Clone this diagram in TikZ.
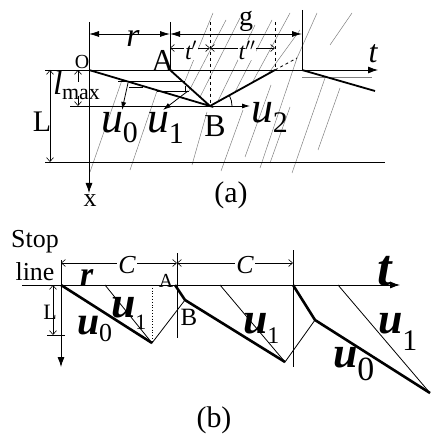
\documentclass[tikz,border=0pt]{standalone}
\usepackage{fontspec}
\setmainfont{Liberation Serif}
\usetikzlibrary{arrows.meta}
\newcommand\fs[1]{\fontsize{#1}{#1}\selectfont}
\newcommand\myU[4]{{\fs{#1}\itshape u}\raisebox{-#4bp}{\fs{#2}#3}}
\newcommand\myUb[4]{{\fs{#1}\bfseries\itshape u}\raisebox{-#4bp}{\fs{#2}#3}}
\begin{document}
\begin{tikzpicture}[x=1bp,y=-1bp,
  lab/.style={inner sep=0pt,outer sep=0pt},
  gl/.style={gray,line width=0.5bp},
  ln/.style={line width=0.8bp},
  thk/.style={line width=1.8bp},
  thkb/.style={line width=2.6bp},
  dimF/.style={line width=0.8bp,{Latex[length=10bp,width=6bp]}-{Latex[length=10bp,width=6bp]}},
  dimO/.style={line width=0.6bp,{Straight Barb[length=4bp,width=7bp]}-{Straight Barb[length=4bp,width=7bp]}},
  arrO/.style={line width=0.6bp,-{Straight Barb[length=4bp,width=7bp]}},
  axarr/.style={line width=0.8bp,-{Latex[length=10bp,width=7bp]}},
  warr/.style={line width=0.8bp,-{Latex[length=8bp,width=5bp]}}]
\useasboundingbox (0,0) rectangle (430,448);

% ================= (a) =================
\coordinate (O) at (89,70);
\coordinate (A) at (170,70);
\coordinate (B) at (210,106);
\coordinate (C) at (275,70);
\coordinate (G) at (302,70);
\coordinate (R) at (375,91);
\coordinate (Cx) at (297,58);

\draw[gl] (90,172) -- (122,80);
\draw[gl] (130,170) -- (157,91);
\draw[gl] (192,165) -- (207,112);
\draw[gl] (221,171) -- (243,110);
\draw[gl] (245,157) -- (271,85);
\draw[gl] (260,168) -- (297,58);
\draw[gl] (270,163) -- (290,107);
\draw[gl] (292,173) -- (325,78);
\draw[gl] (318,150) -- (340,88);
\draw[gl] (185,81) -- (213,13);
\draw[gl] (189,91) -- (226,20);
\draw[gl] (200,97) -- (240,18);
\draw[gl] (218,101) -- (255,25);
\draw[gl] (235,92) -- (272,20);
\draw[gl] (252,83) -- (290,13);
\draw[gl] (268,74) -- (300,30);
\draw[gl] (297,58) -- (317,13);
\draw[gl] (330,45) -- (352,13);
\draw[gl] (302,77) -- (372,77);

\draw[axarr] (45,70) -- (378,70);
\draw[axarr] (89,22) -- (89,193);
\draw[ln] (45,162) -- (385,162);
\draw[ln] (70,106) -- (B);
\draw[ln] (170,22) -- (A);
\draw[ln] (302,10) -- (G);
\draw[ln,dashed] (210,22) -- (B);
\draw[ln,dashed] (275,22) -- (C);
\draw[ln,dashed] (C) -- (Cx);

\draw[ln] (118,81) -- (185,81);
\draw[ln] (157,91) -- (189,91);
\draw[ln] (129,87) -- (143,87);
\draw[ln] (185,86) -- (185,91);
\draw[thk] (O) -- (B) -- (A);
\draw[thk] (B) -- (C);
\draw[thk] (G) -- (R);

\draw[warr] (128,83) -- (122,110);
\draw[warr] (188,91) -- (163,110);
\draw[warr] (B) -- (250,106);
\draw[ln] (232,106) arc[start angle=0,end angle=-28,radius=22];

\draw[dimF] (89,34) -- (170,34);
\draw[dimF] (170,34) -- (302,34);
\draw[dimO] (170,48) -- (210,48);
\draw[dimO] (210,48) -- (275,48);
\draw[dimO] (50,70) -- (50,162);
\draw[arrO] (78,82) -- (78,70);
\draw[arrO] (78,96) -- (78,106);

\node[lab] (lO) at (82,62) {\fs{20}O};
\node[lab,anchor=base] (lA) at (163,72) {\fs{32}A};
\node[lab,anchor=base] (lB) at (215,137) {\fs{32}B};
\node[lab,anchor=base] (lr) at (133,47) {\fs{34}\itshape r};
\node[lab,anchor=base] (lg) at (246,26) {\fs{28}g};
\node[lab,fill=white,inner sep=1bp] (ltp) at (191,50) {\fs{24}\itshape t$'$};
\node[lab,fill=white,inner sep=1bp] (ltpp) at (247,50) {\fs{24}\itshape t$''$};
\node[lab,anchor=base] (lt) at (373,63) {\fs{32}\itshape t};
\node[lab] (lL) at (42,122) {\fs{30}L};
\node[lab,anchor=base west] (ll) at (53,95) {\fs{34}\itshape l};
\node[lab,anchor=base west] (lmax) at (62,100) {\fs{22}max};
\node[lab] (lx) at (90,201) {\fs{26}x};
\node[lab,anchor=base west] (u0a) at (101,133) {\myU{44}{30}{0}{10}};
\node[lab,anchor=base west] (u1a) at (147,133) {\myU{44}{30}{1}{11}};
\node[lab,anchor=base west] (u2a) at (251,123) {\myU{44}{30}{2}{10}};
\node[lab] (capa) at (231,195) {\fs{30}(a)};

% ================= (b) =================
\coordinate (S0) at (61,285);
\coordinate (V1) at (152,343);
\coordinate (A2) at (175,285);
\coordinate (B2) at (185,300);
\coordinate (V2) at (285,362);
\coordinate (C2) at (293,285);
\coordinate (B3) at (315,320);
\coordinate (E) at (430,393);
\coordinate (W1) at (105,285);
\coordinate (D1) at (152,285);
\coordinate (W2) at (220,285);
\coordinate (W3) at (338,285);

\draw[axarr] (22,285) -- (400,285);
\draw[axarr] (61,260) -- (61,367);
\draw[ln] (177,253) -- (177,338);
\draw[ln] (293,250) -- (293,367);
\draw[dimO] (53,285) -- (53,335);
\draw[ln] (47,335) -- (65,335);

\draw[ln] (W1) -- (V1) -- (B2);
\draw[ln,dotted] (D1) -- (V1);
\draw[ln] (W2) -- (V2) -- (B3);
\draw[ln] (W3) -- (E);
\draw[thkb] (S0) -- (V1);
\draw[thkb] (A2) -- (B2) -- (V2);
\draw[thkb] (C2) -- (B3) -- (E);

\draw[dimO] (61,263) -- (177,263);
\draw[dimO] (177,263) -- (293,263);
\node[lab,fill=white,inner sep=1bp] (lC1) at (127,265) {\fs{26}\itshape C};
\node[lab,fill=white,inner sep=1bp] (lC2) at (245,265) {\fs{26}\itshape C};

\node[lab,anchor=base] (lstop) at (35,247) {\fs{26}Stop};
\node[lab,anchor=base] (lline) at (35,280) {\fs{26}line};
\node[lab,anchor=base west] (lrb) at (80,285) {\fs{34}\bfseries\itshape r};
\node[lab,anchor=base] (lA2) at (166,287) {\fs{20}A};
\node[lab,anchor=base] (lB2) at (189,325) {\fs{25}B};
\node[lab] (lLb) at (50,312) {\fs{22}L};
\node[lab,anchor=base west] (u1b) at (111,317) {\myUb{44}{22}{1}{12}};
\node[lab,anchor=base west] (u0b) at (77,334) {\myUb{40}{26}{0}{7}};
\node[lab,anchor=base west] (u1c) at (243,333) {\myUb{44}{24}{1}{10}};
\node[lab,anchor=base west] (u0c) at (333,367) {\myUb{44}{34}{0}{13}};
\node[lab,anchor=base west] (u1d) at (378,333) {\myUb{44}{30}{1}{17}};
\node[lab,anchor=base west] (ltb) at (377,285) {\fs{52}\bfseries\itshape t};
\node[lab] (capb) at (214,420) {\fs{30}(b)};
\end{tikzpicture}
\end{document}
